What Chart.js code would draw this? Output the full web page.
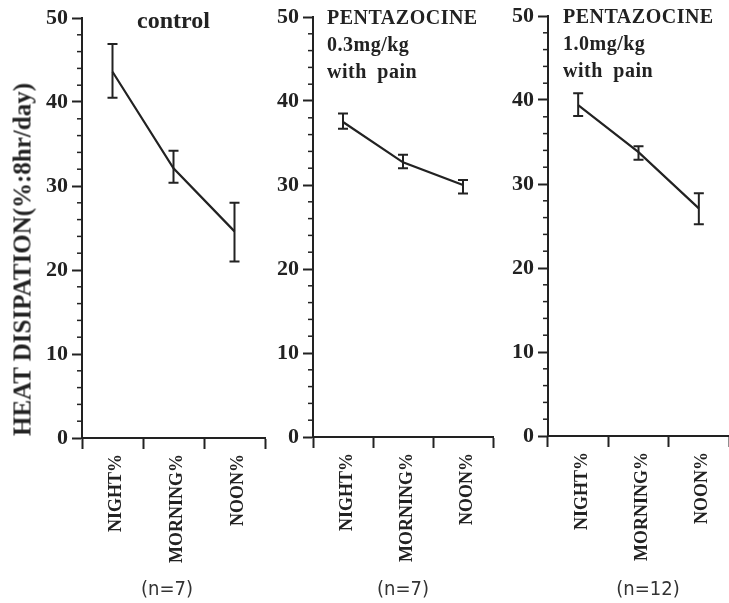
<!DOCTYPE html>
<html>
<head>
<meta charset="utf-8">
<script src="https://cdn.jsdelivr.net/npm/chart.js@4"></script>
<style>
  body { margin: 0; background: #fff; }
  #wrap { position: relative; width: 729px; height: 603px; overflow: hidden; background: #fff; }
  canvas { position: absolute; top: 0; }
  .lbl { position: absolute; color: #222; font-family: "Liberation Serif", serif; font-weight: bold; white-space: nowrap; }
  .panel-title { font-size: 20px; line-height: 27px; letter-spacing: 0.5px; word-spacing: 5px; }
  .n { position: absolute; width: 100px; text-align: center; color: #333; font-family: "DejaVu Sans Condensed", "DejaVu Sans", sans-serif; font-size: 20px; line-height: 22px; }
</style>
</head>
<body>
<div id="wrap">
  <canvas id="c1" width="272" height="603" style="left:0px"></canvas>
  <canvas id="c2" width="228" height="603" style="left:272px"></canvas>
  <canvas id="c3" width="229" height="603" style="left:500px"></canvas>

  <div class="lbl" style="left:-178px; top:247px; width:400px; text-align:center; font-size:25px; line-height:25px; transform:rotate(-90deg);">HEAT DISIPATION(%:8hr/day)</div>

  <div class="lbl" style="left:137px; top:8px; font-size:24px; line-height:24px;">control</div>
  <div class="lbl panel-title" style="left:327px; top:4px;">PENTAZOCINE<br>0.3mg/kg<br>with pain</div>
  <div class="lbl panel-title" style="left:563px; top:3px;">PENTAZOCINE<br>1.0mg/kg<br>with pain</div>

  <div class="n" style="left:117px; top:577px;">(n=7)</div>
  <div class="n" style="left:353px; top:577px;">(n=7)</div>
  <div class="n" style="left:598px; top:577px;">(n=12)</div>
</div>

<script>
// time-of-day categories
const categories = ["NIGHT%", "MORNING%", "NOON%"];

// control (n=7)
const controlMean = [43.6, 32.1, 24.6];
const controlHigh = [46.9, 34.2, 28.0];
const controlLow = [40.5, 30.4, 21.0];

// pentazocine 0.3mg/kg with pain (n=7)
const pent03Mean = [37.5, 32.7, 30.0];
const pent03High = [38.5, 33.6, 30.6];
const pent03Low = [36.7, 32.0, 29.0];

// pentazocine 1.0mg/kg with pain (n=12)
const pent10Mean = [39.4, 33.8, 27.1];
const pent10High = [40.8, 34.5, 28.9];
const pent10Low = [38.1, 32.9, 25.2];

// y axis: labelled every 10, small ticks every 2
const yMin = 0;
const yMax = 50;
const yMajorStep = 10;
const yMinorStep = 2;

const INK = "#222";

/**
 * Draw mean +/- error bars from the plugin options
 */
const errorBarPlugin = {
  id: "errorBars",
  afterDatasetsDraw(chart, args, opts) {
    const { ctx, scales: { x, y } } = chart;
    ctx.save();
    ctx.strokeStyle = INK;
    ctx.lineWidth = 2;
    opts.high.forEach((hi, i) => {
      const px = x.getPixelForValue(i);
      const top = y.getPixelForValue(hi);
      const bot = y.getPixelForValue(opts.low[i]);
      ctx.beginPath();
      ctx.moveTo(px, top);
      ctx.lineTo(px, bot);
      ctx.moveTo(px - 5, top);
      ctx.lineTo(px + 5, top);
      ctx.moveTo(px - 5, bot);
      ctx.lineTo(px + 5, bot);
      ctx.stroke();
    });
    ctx.restore();
  },
};

/**
 * Short ticks for the unlabelled y values
 */
const minorTickPlugin = {
  id: "minorTicks",
  afterDraw(chart) {
    const { ctx, chartArea, scales: { y } } = chart;
    ctx.save();
    ctx.strokeStyle = INK;
    ctx.lineWidth = 1.5;
    y.ticks.forEach((t) => {
      if (t.value % yMajorStep === 0) return;
      const py = y.getPixelForValue(t.value);
      ctx.beginPath();
      ctx.moveTo(chartArea.left - 5, py);
      ctx.lineTo(chartArea.left, py);
      ctx.stroke();
    });
    ctx.restore();
  },
};

function makePanel(canvasId, mean, high, low, layout) {
  const ctx = document.getElementById(canvasId).getContext("2d");
  return new Chart(ctx, {
    type: "line",
    data: {
      labels: categories,
      datasets: [
        {
          data: mean,
          borderColor: INK,
          borderWidth: 2.2,
          pointRadius: 0,
          tension: 0,
          fill: false,
        },
      ],
    },
    options: {
      responsive: false,
      animation: false,
      devicePixelRatio: 1,
      layout: { padding: { top: layout.top, right: layout.right, left: 0, bottom: 0 } },
      plugins: {
        legend: { display: false },
        tooltip: { enabled: false },
        errorBars: { high: high, low: low },
      },
      scales: {
        x: {
          type: "category",
          offset: true,
          grid: { offset: true, drawOnChartArea: false, drawTicks: true, tickLength: 11, tickColor: INK, tickWidth: 2 },
          border: { display: true, color: INK, width: 2 },
          ticks: {
            autoSkip: false,
            minRotation: 90,
            maxRotation: 90,
            padding: 5,
            labelOffset: 4,
            color: INK,
            font: { family: "Liberation Serif", weight: "bold", size: 18 },
          },
          afterFit: (s) => {
            s.height = 603 - layout.bottom;
            s.paddingLeft = 0;
            s.paddingRight = 0;
          },
        },
        y: {
          min: yMin,
          max: yMax,
          grid: {
            drawOnChartArea: false,
            drawTicks: true,
            tickLength: 10,
            tickWidth: 2,
            tickColor: (c) => (c.tick && c.tick.value % yMajorStep === 0 ? INK : "rgba(0,0,0,0)"),
          },
          border: { display: true, color: INK, width: 2 },
          ticks: {
            stepSize: yMinorStep,
            autoSkip: false,
            padding: 4,
            color: INK,
            font: { family: "Liberation Serif", weight: "bold", size: 22 },
            callback: (v) => (v % yMajorStep === 0 ? v : ""),
          },
          afterFit: (s) => {
            s.width = layout.axisX;
            s.paddingTop = 0;
            s.paddingBottom = 0;
          },
        },
      },
    },
    plugins: [errorBarPlugin, minorTickPlugin],
  });
}

makePanel("c1", controlMean, controlHigh, controlLow, { top: 18, bottom: 438, right: 7, axisX: 82 });
makePanel("c2", pent03Mean, pent03High, pent03Low, { top: 17, bottom: 437, right: 7, axisX: 41 });
makePanel("c3", pent10Mean, pent10High, pent10Low, { top: 16, bottom: 436, right: 0, axisX: 48 });
</script>
</body>
</html>
